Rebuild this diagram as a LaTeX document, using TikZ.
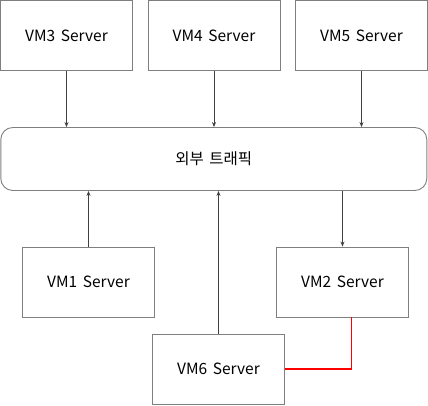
\documentclass[tikz,border=0pt]{standalone}
\usepackage{fontspec}
\setmainfont{Noto Sans CJK KR}[WordSpace=1.6]
\usetikzlibrary{arrows.meta, positioning, calc}
\definecolor{boxline}{HTML}{7F7F7F}
\definecolor{wire}{HTML}{404040}
\tikzset{
  server/.style={
    rectangle, minimum width=132pt, minimum height=70pt,
    draw=boxline, line width=0.9pt, font=\fontsize{15.5}{18}\selectfont
  },
  traffic/.style={
    rectangle, rounded corners=12pt, minimum width=426pt, minimum height=63pt,
    draw=boxline, line width=0.9pt, font=\fontsize{15.5}{18}\selectfont
  },
  flow/.style={
    -{Stealth[length=5pt,width=4pt]}, color=wire, line width=0.7pt
  },
  redlink/.style={
    draw=red, line width=1.2pt
  }
}
\begin{document}
\begin{tikzpicture}[x=1pt, y=-1pt]
  \useasboundingbox (0,0) rectangle (428,405);

  % upper servers
  \node[server] (vm3) at (66.5,35.5) {VM3 Server};
  \node[server] (vm4) at (214,35.5) {VM4 Server};
  \node[server] (vm5) at (361.5,35.5) {VM5 Server};

  % external traffic
  \node[traffic] (ext) at (213.8,159) {외부 트래픽};

  % lower servers
  \node[server] (vm1) at (88.5,282) {VM1 Server};
  \node[server] (vm2) at (342.5,282) {VM2 Server};
  \node[server] (vm6) at (218.5,369) {VM6 Server};

  % Arrows
  \draw[flow] (vm3) -- (vm3 |- ext.north);
  \draw[flow] (vm4) -- (vm4 |- ext.north);
  \draw[flow] (vm5) -- (vm5 |- ext.north);
  \draw[flow] (vm1) -- (vm1 |- ext.south);
  \draw[flow] (vm6) -- (vm6 |- ext.south);
  \draw[flow] (ext.south -| vm2) -- (vm2);
  \draw[redlink] (vm6.east) -| ([xshift=9pt]vm2.south);

\end{tikzpicture}
\end{document}
